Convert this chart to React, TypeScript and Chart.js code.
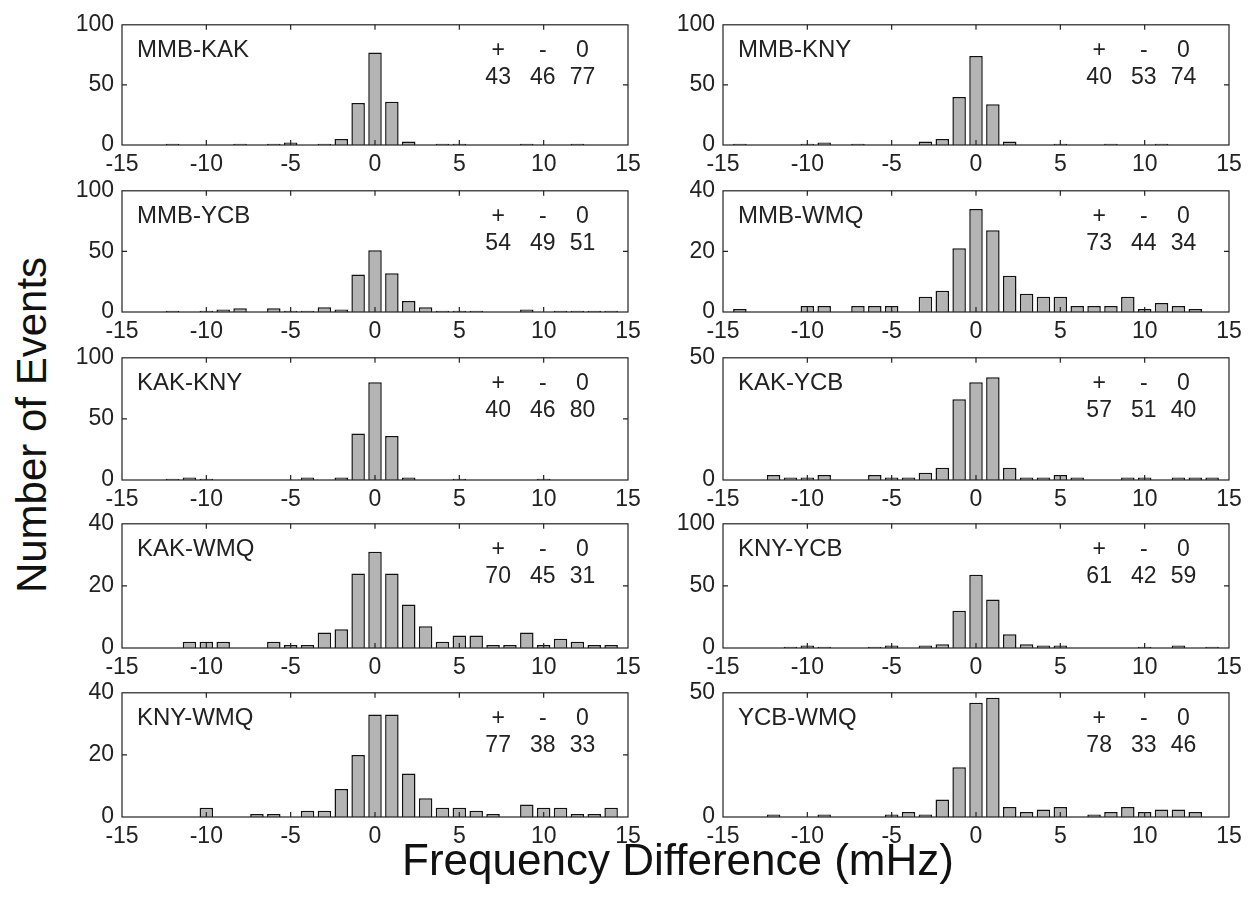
import React, { useEffect, useRef } from "react";
import { Chart, registerables } from "chart.js";

Chart.register(...registerables);

// ---------------- DATA ----------------
const binCenters = [-14, -13, -12, -11, -10, -9, -8, -7, -6, -5, -4, -3, -2, -1, 0, 1, 2, 3, 4, 5, 6, 7, 8, 9, 10, 11, 12, 13, 14];
const xTickValues = [-15, -10, -5, 0, 5, 10, 15];

const panelNames = ["MMB-KAK", "MMB-KNY", "MMB-YCB", "MMB-WMQ", "KAK-KNY", "KAK-YCB", "KAK-WMQ", "KNY-YCB", "KNY-WMQ", "YCB-WMQ"];

const mmbKak = [0, 0, 1, 0, 0, 0, 1, 0, 1, 2, 0, 1, 5, 35, 77, 36, 3, 0, 1, 1, 0, 0, 0, 1, 0, 0, 1, 0, 0];
const mmbKny = [1, 0, 0, 0, 1, 2, 0, 1, 0, 0, 0, 3, 5, 40, 74, 34, 3, 0, 0, 1, 0, 0, 1, 0, 0, 1, 0, 0, 0];
const mmbYcb = [0, 0, 1, 0, 1, 2, 3, 0, 3, 1, 1, 4, 2, 31, 51, 32, 9, 4, 1, 1, 1, 0, 0, 2, 0, 1, 1, 1, 1];
const mmbWmq = [1, 0, 0, 0, 2, 2, 0, 2, 2, 2, 0, 5, 7, 21, 34, 27, 12, 6, 5, 5, 2, 2, 2, 5, 1, 3, 2, 1, 0];
const kakKny = [0, 0, 1, 2, 1, 0, 0, 0, 0, 0, 2, 0, 2, 38, 80, 36, 2, 0, 0, 1, 0, 0, 0, 0, 1, 0, 0, 0, 0];
const kakYcb = [0, 0, 2, 1, 1, 2, 0, 0, 2, 1, 1, 3, 5, 33, 40, 42, 5, 1, 1, 2, 1, 0, 0, 1, 1, 0, 1, 1, 1];
const kakWmq = [0, 0, 0, 2, 2, 2, 0, 0, 2, 1, 1, 5, 6, 24, 31, 24, 14, 7, 2, 4, 4, 1, 1, 5, 1, 3, 2, 1, 1];
const knyYcb = [0, 0, 0, 1, 2, 1, 0, 0, 1, 2, 0, 2, 3, 30, 59, 39, 11, 3, 2, 2, 0, 0, 0, 0, 1, 0, 2, 0, 1];
const knyWmq = [0, 0, 0, 0, 3, 0, 0, 1, 1, 0, 2, 2, 9, 20, 33, 33, 14, 6, 3, 3, 2, 1, 0, 4, 3, 3, 1, 1, 3];
const ycbWmq = [0, 0, 1, 0, 0, 1, 0, 0, 0, 1, 2, 1, 7, 20, 46, 48, 4, 2, 3, 4, 0, 1, 2, 4, 2, 3, 3, 2, 0];

const panelCounts = [mmbKak, mmbKny, mmbYcb, mmbWmq, kakKny, kakYcb, kakWmq, knyYcb, knyWmq, ycbWmq];

const yMaxValues = [100, 100, 100, 40, 100, 50, 40, 100, 40, 50];
const yStepValues = [50, 50, 50, 20, 50, 50, 20, 50, 20, 50];

const statHeaders = ["+", "-", "0"];
const plusCounts = [43, 40, 54, 73, 40, 57, 70, 61, 77, 78];
const minusCounts = [46, 53, 49, 44, 46, 51, 45, 42, 38, 33];
const zeroCounts = [77, 74, 51, 34, 80, 40, 31, 59, 33, 46];

const xAxisTitle = "Frequency Difference (mHz)";
const yAxisTitle = "Number of Events";

// ---------------- LAYOUT / STYLE ----------------
const FONT = '"Liberation Sans", Arial, Helvetica, sans-serif';
const colLeft = [122, 723];
const plotWidth = 506;
const rowTop = [19, 185, 352, 518, 687];
const rowBottom = [145, 312, 480, 648, 817];
const AX_W = 64;
const AX_H = 38;
const PAD_T = 16;
const PAD_R = 24;
const statX = [7.3, 9.95, 12.3];

function makeFramePlugin(idx: number) {
  return {
    id: "frame" + idx,
    afterDatasetsDraw(chart: any) {
      const ctx = chart.ctx;
      const { left, right, top, bottom } = chart.chartArea;
      const x = chart.scales.x;
      const y = chart.scales.y;
      ctx.save();
      ctx.strokeStyle = "#222";
      ctx.lineWidth = 1.2;
      ctx.strokeRect(left, top, right - left, bottom - top);
      // inward tick marks
      ctx.beginPath();
      xTickValues.slice(1, -1).forEach((v) => {
        const px = x.getPixelForValue(v);
        ctx.moveTo(px, bottom);
        ctx.lineTo(px, bottom - 5);
        ctx.moveTo(px, top);
        ctx.lineTo(px, top + 5);
      });
      for (let v = yStepValues[idx]; v < yMaxValues[idx]; v += yStepValues[idx]) {
        const py = y.getPixelForValue(v);
        ctx.moveTo(left, py);
        ctx.lineTo(left + 5, py);
        ctx.moveTo(right, py);
        ctx.lineTo(right - 5, py);
      }
      ctx.stroke();
      // labels
      ctx.fillStyle = "#222";
      ctx.font = `24px ${FONT}`;
      ctx.textBaseline = "middle";
      ctx.textAlign = "left";
      ctx.fillText(panelNames[idx], left + 15, top + 26);
      ctx.font = `23px ${FONT}`;
      ctx.textAlign = "center";
      const vals = [plusCounts[idx], minusCounts[idx], zeroCounts[idx]];
      statX.forEach((sx, k) => {
        const px = x.getPixelForValue(sx);
        ctx.fillText(statHeaders[k], px, top + 26);
        ctx.fillText(String(vals[k]), px, top + 53);
      });
      ctx.restore();
    },
  };
}

function Panel({ idx }: { idx: number }) {
  const ref = useRef<HTMLCanvasElement>(null);
  const row = Math.floor(idx / 2);
  const col = idx % 2;
  const plotH = rowBottom[row] - rowTop[row];
  const w = AX_W + plotWidth + PAD_R;
  const h = PAD_T + plotH + AX_H;
  const left = colLeft[col] - AX_W;
  const top = rowTop[row] - PAD_T;

  useEffect(() => {
    if (!ref.current) return;
    const counts = panelCounts[idx];
    const data = binCenters
      .map((c, i) => ({ x: c, y: counts[i] }))
      .filter((p) => p.y > 0);
    const tickFont = { family: FONT, size: 23 };
    const chart = new Chart(ref.current, {
      type: "bar",
      data: {
        datasets: [
          {
            data,
            backgroundColor: "#b4b4b4",
            borderColor: "#111",
            borderWidth: 1.5,
            barPercentage: 0.8,
            categoryPercentage: 1,
          } as any,
        ],
      },
      options: {
        responsive: false,
        animation: false,
        events: [],
        layout: { padding: { top: PAD_T, right: PAD_R, left: 0, bottom: 0 } },
        plugins: { legend: { display: false }, tooltip: { enabled: false } },
        scales: {
          x: {
            type: "linear",
            min: -15,
            max: 15,
            offset: false,
            grid: { display: false, drawTicks: false },
            border: { display: false },
            ticks: {
              stepSize: 5,
              maxRotation: 0,
              autoSkip: false,
              padding: 6,
              color: "#222",
              font: tickFont,
            },
            afterFit: (s: any) => {
              s.height = AX_H;
            },
          },
          y: {
            min: 0,
            max: yMaxValues[idx],
            grid: { display: false, drawTicks: false },
            border: { display: false },
            ticks: {
              stepSize: yStepValues[idx],
              padding: 8,
              color: "#222",
              font: tickFont,
            },
            afterFit: (s: any) => {
              s.width = AX_W;
            },
          },
        },
      } as any,
      plugins: [makeFramePlugin(idx)],
    });
    return () => chart.destroy();
  }, [idx]);

  return (
    <canvas
      ref={ref}
      width={w}
      height={h}
      style={{ position: "absolute", left, top, width: w, height: h }}
    />
  );
}

export default function App() {
  return (
    <div style={{ position: "absolute", left: 0, top: 0, width: 1253, height: 906, background: "#fff" }}>
      {panelNames.map((_, i) => (
        <Panel key={i} idx={i} />
      ))}
      <div
        style={{
          position: "absolute",
          left: 678,
          top: 860,
          transform: "translate(-50%, -50%)",
          fontFamily: FONT,
          fontSize: 44,
          color: "#111",
          whiteSpace: "nowrap",
        }}
      >
        {xAxisTitle}
      </div>
      <div
        style={{
          position: "absolute",
          left: 32,
          top: 425,
          transform: "translate(-50%, -50%) rotate(-90deg)",
          fontFamily: FONT,
          fontSize: 42,
          color: "#111",
          whiteSpace: "nowrap",
        }}
      >
        {yAxisTitle}
      </div>
    </div>
  );
}
